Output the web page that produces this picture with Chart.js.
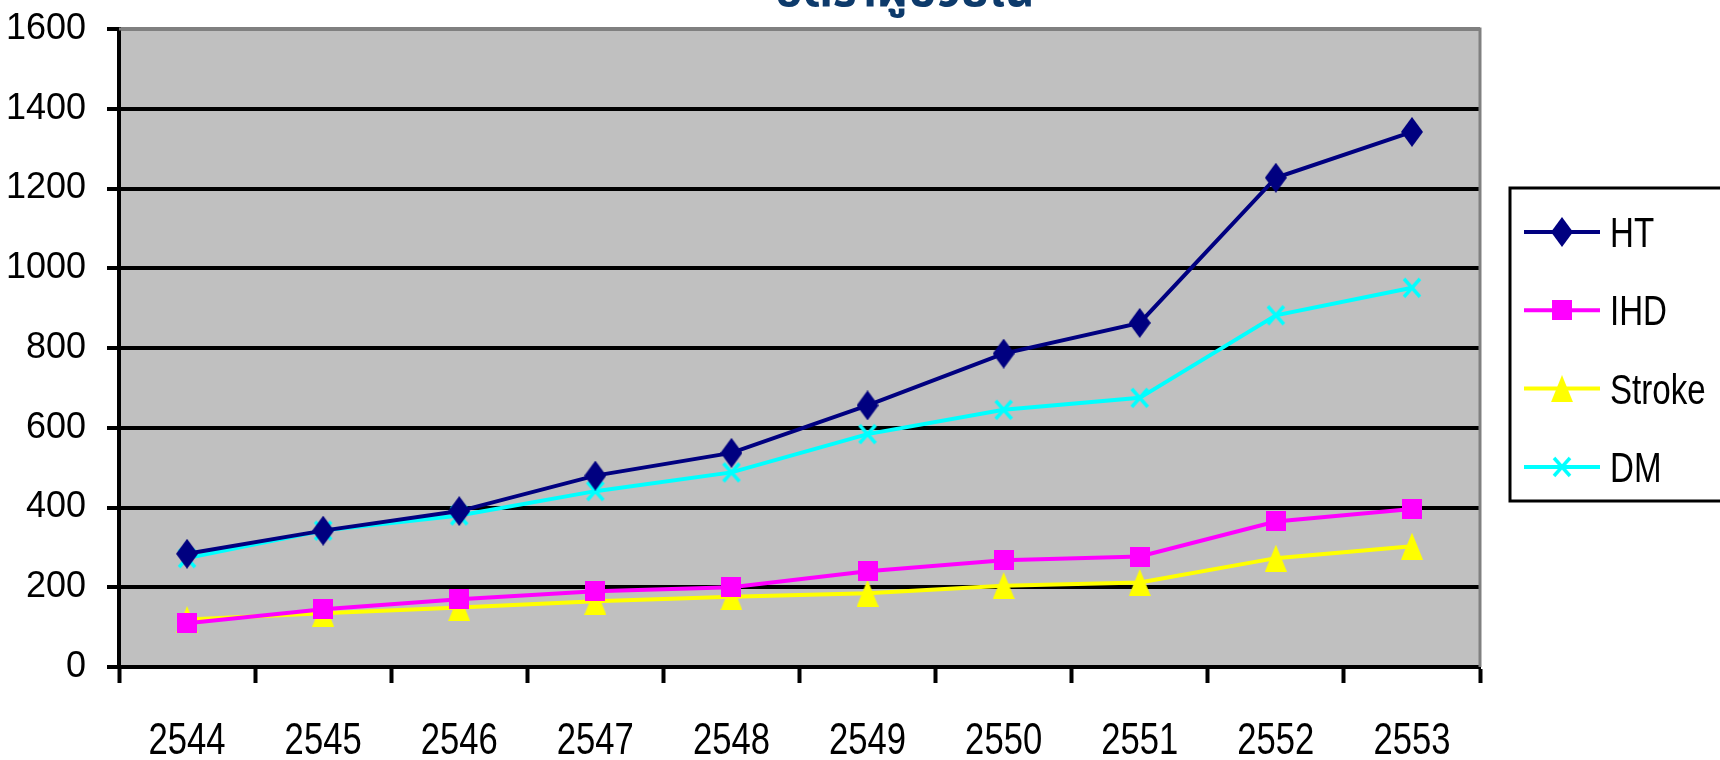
<!DOCTYPE html>
<html>
<head>
<meta charset="utf-8">
<script src="https://cdn.jsdelivr.net/npm/chart.js"></script>
<style>
  html, body { margin: 0; padding: 0; background: #fff; overflow: hidden; }
</style>
</head>
<body>
<canvas id="rates" width="1720" height="760"></canvas>
<script>
var years = ["2544", "2545", "2546", "2547", "2548", "2549", "2550", "2551", "2552", "2553"];
var htValues = [284, 342, 391, 480, 537, 656, 786, 863, 1227, 1342];
var ihdValues = [110, 145, 170, 190, 200, 240, 268, 277, 365, 396];
var strokeValues = [119, 135, 149, 165, 176, 185, 204, 212, 273, 303];
var dmValues = [273, 342, 380, 441, 488, 584, 645, 675, 882, 951];
var seriesNames = ["HT", "IHD", "Stroke", "DM"];
var titleText = "อัตราผู้ป่วยใน";

var sansFont = "'Liberation Sans', Arial, sans-serif";

// excel-like markers drawn on small canvases
function marker(kind, color, w, h) {
  var c = document.createElement("canvas");
  c.width = w; c.height = h;
  var g = c.getContext("2d");
  g.fillStyle = color;
  g.strokeStyle = color;
  g.lineWidth = 3.5;
  g.beginPath();
  if (kind == "diamond") {
    g.moveTo(w / 2, 0); g.lineTo(w, h / 2); g.lineTo(w / 2, h); g.lineTo(0, h / 2);
    g.closePath(); g.fill();
  } else if (kind == "square") {
    g.rect(0, 0, w, h); g.fill();
  } else if (kind == "triangle") {
    g.moveTo(w / 2, 0); g.lineTo(w, h); g.lineTo(0, h);
    g.closePath(); g.fill();
  } else {
    g.moveTo(2, 2); g.lineTo(w - 2, h - 2);
    g.moveTo(w - 2, 2); g.lineTo(2, h - 2);
    g.stroke();
  }
  return c;
}

// narrow text: the original uses an Arial Narrow look
function narrowText(ctx, txt, x, y, size, align) {
  ctx.save();
  ctx.translate(x, y);
  ctx.scale(0.77, 1);
  ctx.font = size + "px " + sansFont;
  ctx.textAlign = align;
  ctx.textBaseline = "alphabetic";
  ctx.fillStyle = "#000";
  ctx.fillText(txt, 0, 0);
  ctx.restore();
}

var plotBack = {
  id: "plotBack",
  beforeDraw: function(chart) {
    var a = chart.chartArea, ctx = chart.ctx;
    ctx.save();
    ctx.fillStyle = "#c0c0c0";
    ctx.fillRect(a.left, a.top, a.right - a.left, a.bottom - a.top);
    ctx.restore();
  },
  afterDraw: function(chart) {
    var a = chart.chartArea, ctx = chart.ctx;
    ctx.save();
    // grey frame on top and right
    ctx.strokeStyle = "#808080";
    ctx.lineWidth = 3;
    ctx.beginPath();
    ctx.moveTo(a.left, a.top); ctx.lineTo(a.right, a.top); ctx.lineTo(a.right, a.bottom);
    ctx.stroke();

    // category labels under the axis
    var xs = chart.scales.x;
    chart.data.labels.forEach(function(lab, i) {
      narrowText(ctx, lab, xs.getPixelForTick(i), 754, 45, "center");
    });

    // title, mostly cut off at the top
    ctx.fillStyle = "#0d3a6b";
    ctx.font = "bold 46px 'Noto Sans Thai', 'Noto Sans', sans-serif";
    ctx.textAlign = "center";
    ctx.textBaseline = "alphabetic";
    ctx.fillText(titleText, 905, 6);

    // legend box
    ctx.strokeStyle = "#000";
    ctx.lineWidth = 3;
    ctx.strokeRect(1510, 188, 260, 313);
    chart.data.datasets.forEach(function(ds, i) {
      var y = 232 + i * 78.3;
      ctx.strokeStyle = ds.borderColor;
      ctx.lineWidth = 4;
      ctx.beginPath(); ctx.moveTo(1524, y); ctx.lineTo(1600, y); ctx.stroke();
      var img = ds.pointStyle;
      ctx.drawImage(img, 1562 - img.width / 2, y - img.height / 2);
      narrowText(ctx, ds.label, 1610, y + 15, 43, "left");
    });
    ctx.restore();
  }
};

function line(name, values, color, pt) {
  return {
    label: name,
    data: values,
    borderColor: color,
    backgroundColor: color,
    borderWidth: 4,
    tension: 0,
    fill: false,
    pointStyle: pt,
    pointRadius: 11
  };
}

var ctx = document.getElementById("rates").getContext("2d");
var rateChart = new Chart(ctx, {
  type: "line",
  data: {
    labels: years,
    datasets: [
      line(seriesNames[0], htValues, "#000080", marker("diamond", "#000080", 22, 30)),
      line(seriesNames[1], ihdValues, "#ff00ff", marker("square", "#ff00ff", 20, 20)),
      line(seriesNames[2], strokeValues, "#ffff00", marker("triangle", "#ffff00", 22, 27)),
      line(seriesNames[3], dmValues, "#00ffff", marker("cross", "#00ffff", 20, 22))
    ]
  },
  options: {
    responsive: false,
    animation: false,
    devicePixelRatio: 1,
    layout: { padding: { top: 29, right: 240, bottom: 0, left: 0 } },
    plugins: {
      legend: { display: false },
      title: { display: false },
      tooltip: { enabled: false }
    },
    scales: {
      x: {
        offset: true,
        afterFit: function(s) { s.height = 93; s.paddingLeft = 0; s.paddingRight = 0; },
        grid: {
          offset: true,
          drawOnChartArea: false,
          drawTicks: true,
          tickLength: 16,
          tickColor: "#000",
          tickWidth: 4
        },
        border: { color: "#000", width: 4 },
        ticks: { display: false }
      },
      y: {
        min: 0,
        max: 1600,
        afterFit: function(s) { s.width = 119; s.paddingTop = 0; s.paddingBottom = 0; },
        grid: {
          color: function(c) { return c.tick && c.tick.value === 1600 ? "#808080" : "#000"; },
          lineWidth: 4,
          drawTicks: true,
          tickLength: 12,
          tickColor: "#000",
          tickWidth: 4
        },
        border: { color: "#000", width: 4 },
        ticks: {
          stepSize: 200,
          color: "#000",
          padding: 21,
          callback: function(v) { return String(v); },
          font: { family: sansFont, size: 36 }
        }
      }
    }
  },
  plugins: [plotBack]
});
</script>
</body>
</html>
